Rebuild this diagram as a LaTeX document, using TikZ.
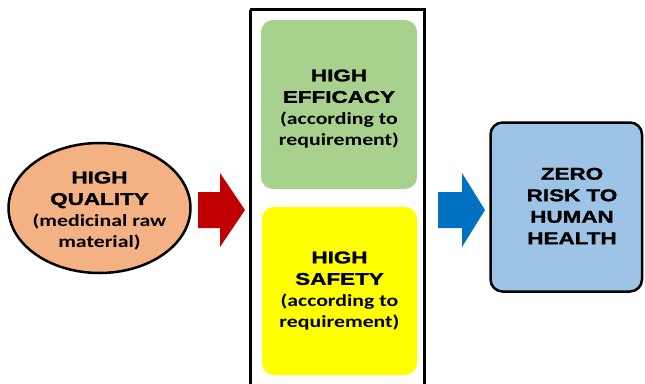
\documentclass[tikz,border=0pt]{standalone}
\usepackage{fontspec}
\newfontfamily\capsfont{Liberation Sans Bold}[FakeBold=1.2]
\newfontfamily\parfont{Carlito Bold}[FakeStretch=1.28]
\definecolor{salmon}{HTML}{F4B183}
\definecolor{arrowred}{HTML}{C00000}
\definecolor{effgreen}{HTML}{A9D18E}
\definecolor{safeyellow}{HTML}{FFFF00}
\definecolor{arrowblue}{HTML}{0070C0}
\definecolor{boxblue}{HTML}{9DC3E6}
\tikzset{
  lbl/.style={align=center, inner sep=0pt, text=black, font=\fontsize{17}{21.5}\selectfont},
  roundbox/.style={rounded corners=12pt},
}
\newcommand{\captxt}[1]{\scalebox{1.32}[1]{\capsfont #1}}
\newcommand{\partxt}[1]{{\parfont\fontsize{17}{21.5}\selectfont #1}}
\begin{document}
\begin{tikzpicture}[x=1pt,y=-1pt]
\useasboundingbox (0,0) rectangle (645,383);
% left ellipse
\fill[salmon,draw=black,line width=2.5pt] (99.5,208) ellipse [x radius=91, y radius=65];
\node[lbl] (quality) at (99.5,211) {\captxt{HIGH}\\\captxt{QUALITY}\\\partxt{(medicinal raw}\\\partxt{material)}};
% red arrow
\fill[arrowred] (198,192) -- (220,192) -- (220,173) -- (245,210) -- (220,247) -- (220,228) -- (198,228) -- cycle;
% center frame
\draw[line width=3pt] (250,9.5) -- (250,395) (424,395) -- (424,9.5) -- (250,9.5);
% green box
\fill[effgreen,roundbox] (261,20) rectangle (417,189);
\node[lbl] (efficacy) at (339,109) {\captxt{HIGH}\\\captxt{EFFICACY}\\\partxt{(according to}\\\partxt{requirement)}};
% yellow box
\fill[safeyellow,roundbox] (262,207) rectangle (417,375);
\node[lbl] (safety) at (339.5,291) {\captxt{HIGH}\\\captxt{SAFETY}\\\partxt{(according to}\\\partxt{requirement)}};
% blue arrow
\fill[arrowblue] (438,192) -- (462,192) -- (462,173) -- (485,210) -- (462,247) -- (462,228) -- (438,228) -- cycle;
% right box
\filldraw[boxblue,draw=black,line width=2.5pt,roundbox] (490.5,122.5) rectangle (642,291.5);
\node[lbl] (risk) at (572,206) {\captxt{ZERO}\\\captxt{RISK TO}\\\captxt{HUMAN}\\\captxt{HEALTH}};
\end{tikzpicture}
\end{document}
